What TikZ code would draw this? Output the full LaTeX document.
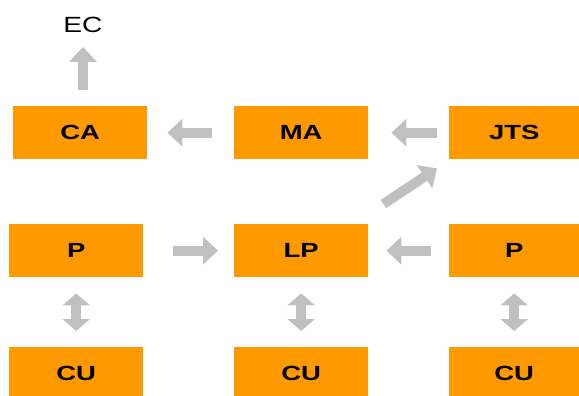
\documentclass[tikz,border=0pt]{standalone}
\usepackage{graphicx}
\usepackage{fontspec}
\setmainfont{Liberation Sans}
\usetikzlibrary{arrows.meta,calc}
\definecolor{boxorange}{HTML}{FF9900}
\definecolor{arrowgray}{HTML}{C0C0C0}
\newcommand{\wlab}[1]{\scalebox{1.34}[1]{\fontsize{20.5}{21}\selectfont\bfseries #1}}
\tikzset{
  box/.style={fill=boxorange, draw=none, minimum height=53pt, inner sep=0pt, anchor=north west},
  blk/.style={draw=arrowgray, line width=10pt, -{Triangle[length=15pt,width=27pt]}},
  dblk/.style={draw=arrowgray, line width=10pt, {Triangle[length=12pt,width=27pt]}-{Triangle[length=12pt,width=27pt]}}
}
\begin{document}
\begin{tikzpicture}[x=1pt,y=-1pt]
\useasboundingbox (0,0) rectangle (579,396);
\node[box, minimum width=134pt] (ca) at (13,106) {\wlab{CA}};
\node[box, minimum width=134pt] (ma) at (234,106) {\wlab{MA}};
\node[box, minimum width=130pt] (jts) at (449,106) {\wlab{JTS}};
\node[box, minimum width=134pt] (p1) at (9,224) {\wlab{P}};
\node[box, minimum width=134pt] (lp) at (234,224) {\wlab{LP}};
\node[box, minimum width=130pt] (p2) at (449,224) {\wlab{P}};
\node[box, minimum width=134pt, minimum height=49pt] (cu1) at (9,347) {\raisebox{-2pt}[\height][\depth]{\wlab{CU}}};
\node[box, minimum width=134pt, minimum height=49pt] (cu2) at (234,347) {\raisebox{-2pt}[\height][\depth]{\wlab{CU}}};
\node[box, minimum width=130pt, minimum height=49pt] (cu3) at (449,347) {\raisebox{-2pt}[\height][\depth]{\wlab{CU}}};
\node[inner sep=0pt] (ec) at (83,25) {\scalebox{1.28}[1]{\fontsize{22}{24}\selectfont EC}};
% arrows
\draw[blk, shorten <=16pt, shorten >=14pt] (ec.south |- ca.north) -- (ec.south);
\draw[blk, shorten <=22pt, shorten >=20pt] (ma.west) -- (ca.east);
\draw[blk, shorten <=12pt, shorten >=23pt] (jts.west) -- (ma.east);
\draw[blk] ($(lp.north east)+(15,-20)$) -- ($(jts.south west)+(-12,9)$);
\draw[blk, shorten <=30pt, shorten >=16pt] (p1.east) -- (lp.west);
\draw[blk, shorten <=18pt, shorten >=18pt] (p2.west) -- (lp.east);
\draw[dblk, shorten <=16pt, shorten >=16pt] (p1.south) -- (cu1.north);
\draw[dblk, shorten <=16pt, shorten >=16pt] (lp.south) -- (cu2.north);
\draw[dblk, shorten <=16pt, shorten >=16pt] (p2.south) -- (cu3.north);
\end{tikzpicture}
\end{document}
